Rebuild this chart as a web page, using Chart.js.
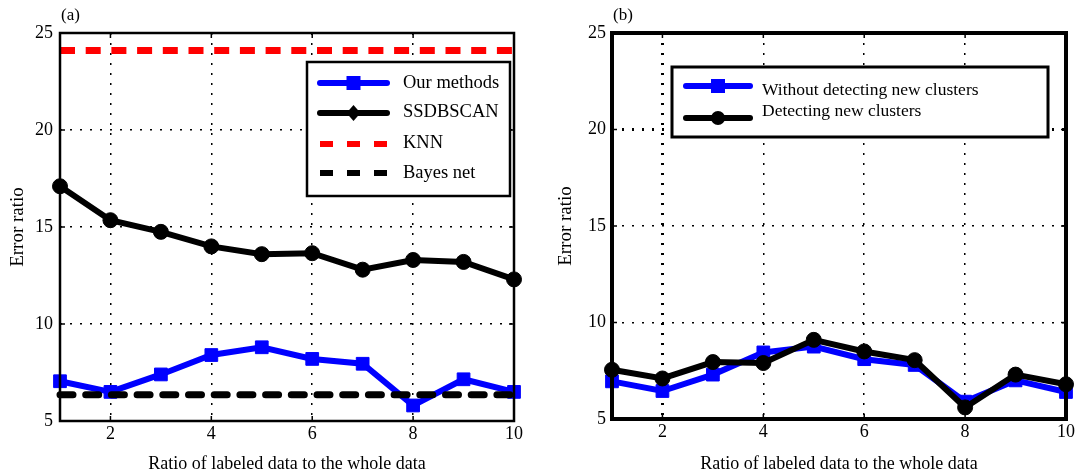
<!DOCTYPE html>
<html>
<head>
<meta charset="utf-8">
<script src="https://cdn.jsdelivr.net/npm/chart.js@4"></script>
<style>
body { margin: 0; background: #fff; }
#wrap { position: relative; width: 1089px; height: 475px; }
.panel { position: absolute; top: 0; height: 475px; }
</style>
</head>
<body>
<div id="wrap">
  <div class="panel" style="left:0;width:545px"><canvas id="chartA" width="545" height="475"></canvas></div>
  <div class="panel" style="left:545px;width:544px"><canvas id="chartB" width="544" height="475"></canvas></div>
</div>
<script>
// ===============================
// Data
// ===============================
var ratios = [1, 2, 3, 4, 5, 6, 7, 8, 9, 10];
var xTicks = [2, 4, 6, 8, 10];
var yTicks = [5, 10, 15, 20, 25];

// panel (a)
var ourMethods = [7.05, 6.5, 7.4, 8.4, 8.8, 8.2, 7.95, 5.8, 7.15, 6.5];
var ssdbscan   = [17.1, 15.35, 14.75, 14.0, 13.6, 13.65, 12.8, 13.3, 13.2, 12.3];
var knn        = [24.1, 24.1, 24.1, 24.1, 24.1, 24.1, 24.1, 24.1, 24.1, 24.1];
var bayesNet   = [6.35, 6.35, 6.35, 6.35, 6.35, 6.35, 6.35, 6.35, 6.35, 6.35];

// panel (b)
var withoutNewClusters   = [6.95, 6.45, 7.3, 8.45, 8.75, 8.1, 7.8, 5.9, 7.0, 6.4];
var detectingNewClusters = [7.55, 7.1, 7.95, 7.9, 9.1, 8.5, 8.05, 5.6, 7.3, 6.8];

var FONT = "'Liberation Serif', 'DejaVu Serif', serif";
var BLUE = "#0000ff";

function toPoints(values) {
    return values.map(function(v, i) { return { x: ratios[i], y: v }; });
}

// draws the frame, inward ticks, panel label and the boxed legend
// (legend coordinates are local to each canvas)
var decorPlugin = {
    id: "decor",
    afterDraw: function(chart) {
        var o = chart.options.plugins.decor;
        var ctx = chart.ctx;
        var a = chart.chartArea;
        var xs = chart.scales.x, ys = chart.scales.y;
        ctx.save();

        // inward tick marks
        ctx.strokeStyle = "#000";
        ctx.lineWidth = 1.5;
        ctx.beginPath();
        xTicks.forEach(function(v) {
            var px = xs.getPixelForValue(v);
            ctx.moveTo(px, a.bottom); ctx.lineTo(px, a.bottom - 5);
            ctx.moveTo(px, a.top); ctx.lineTo(px, a.top + 5);
        });
        yTicks.forEach(function(v) {
            var py = ys.getPixelForValue(v);
            ctx.moveTo(a.left, py); ctx.lineTo(a.left + 5, py);
            ctx.moveTo(a.right, py); ctx.lineTo(a.right - 5, py);
        });
        ctx.stroke();

        // frame
        ctx.lineWidth = o.frameWidth;
        ctx.strokeRect(a.left, a.top, a.right - a.left, a.bottom - a.top);

        // panel label
        ctx.fillStyle = "#000";
        ctx.font = "17px " + FONT;
        ctx.textAlign = "left";
        ctx.textBaseline = "middle";
        ctx.fillText(o.label, a.left + 1, 16);

        // legend box
        var L = o.legend;
        ctx.fillStyle = "#fff";
        ctx.fillRect(L.x, L.y, L.w, L.h);
        ctx.lineWidth = L.border;
        ctx.strokeRect(L.x, L.y, L.w, L.h);

        L.items.forEach(function(item) {
            var ds = chart.data.datasets[item.index];
            ctx.save();
            ctx.strokeStyle = ds.borderColor;
            ctx.lineWidth = 6;
            if (item.dashed) {
                ctx.lineCap = "butt";
                ctx.setLineDash([13, 14]);
            } else {
                ctx.lineCap = "round";
            }
            ctx.beginPath();
            ctx.moveTo(L.lineX0, item.lineY);
            ctx.lineTo(L.lineX1, item.lineY);
            ctx.stroke();
            ctx.restore();
            if (item.marker) {
                var mx = (L.lineX0 + L.lineX1) / 2;
                ctx.fillStyle = ds.pointBackgroundColor;
                ctx.beginPath();
                if (item.marker === "rect") {
                    ctx.rect(mx - 7, item.lineY - 7, 14, 14);
                } else if (item.marker === "diamond") {
                    ctx.moveTo(mx, item.lineY - 8);
                    ctx.lineTo(mx + 7, item.lineY);
                    ctx.lineTo(mx, item.lineY + 8);
                    ctx.lineTo(mx - 7, item.lineY);
                    ctx.closePath();
                } else {
                    ctx.arc(mx, item.lineY, 7, 0, Math.PI * 2);
                }
                ctx.fill();
            }
            ctx.fillStyle = "#000";
            ctx.font = L.fontSize + "px " + FONT;
            ctx.textAlign = "left";
            ctx.textBaseline = "middle";
            ctx.fillText(item.text, L.textX, item.textY);
        });
        ctx.restore();
    }
};

function makeChart(canvasId, datasets, dims, decor) {
    var canvas = document.getElementById(canvasId);
    var W = canvas.width, H = canvas.height;
    // grid lines drawn heavier in the source figure (panel b only)
    function gridWidth(boldValue) {
        return function(c) {
            return (c.tick && c.tick.value === boldValue) ? 3 : 1.5;
        };
    }
    return new Chart(canvas.getContext("2d"), {
        type: "line",
        data: { datasets: datasets },
        plugins: [decorPlugin],
        options: {
            responsive: false,
            animation: false,
            layout: { padding: { left: 0, top: dims.top, right: W - dims.right, bottom: 0 } },
            plugins: {
                legend: { display: false },
                tooltip: { enabled: false },
                decor: decor
            },
            scales: {
                x: {
                    type: "linear",
                    min: 1,
                    max: 10,
                    afterBuildTicks: function(scale) {
                        scale.ticks = xTicks.map(function(v) { return { value: v }; });
                    },
                    afterFit: function(scale) { scale.height = H - dims.bottom; },
                    grid: { color: "#000", lineWidth: gridWidth(dims.boldX), drawTicks: false },
                    border: { display: false, dash: [2, 8] },
                    ticks: { color: "#000", padding: 2, maxRotation: 0, font: { family: FONT, size: 18 } },
                    title: {
                        display: true,
                        text: "Ratio of labeled data to the whole data",
                        color: "#000",
                        font: { family: FONT, size: 18 },
                        padding: { top: 0, bottom: 0 }
                    }
                },
                y: {
                    min: 5,
                    max: 25,
                    afterBuildTicks: function(scale) {
                        scale.ticks = yTicks.map(function(v) { return { value: v }; });
                    },
                    afterFit: function(scale) { scale.width = dims.left; },
                    grid: { color: "#000", lineWidth: gridWidth(dims.boldY), drawTicks: false },
                    border: { display: false, dash: [2, 8] },
                    ticks: { color: "#000", padding: dims.tickPad, font: { family: FONT, size: 18 } },
                    title: {
                        display: true,
                        text: "Error ratio",
                        color: "#000",
                        font: { family: FONT, size: 19 },
                        padding: { top: dims.titlePad, bottom: 0 }
                    }
                }
            }
        }
    });
}

// ===============================
// Panel (a)
// ===============================
makeChart("chartA", [
    { label: "Our methods", data: toPoints(ourMethods), borderColor: BLUE, backgroundColor: BLUE,
      pointBackgroundColor: BLUE, pointBorderColor: BLUE, borderWidth: 6, pointStyle: "rect",
      pointRadius: 9, pointBorderWidth: 1, tension: 0, clip: false, order: 3 },
    { label: "SSDBSCAN", data: toPoints(ssdbscan), borderColor: "#000", backgroundColor: "#000",
      pointBackgroundColor: "#000", pointBorderColor: "#000", borderWidth: 6, pointStyle: "circle",
      pointRadius: 7.5, pointBorderWidth: 1, tension: 0, clip: false, order: 2 },
    { label: "KNN", data: toPoints(knn), borderColor: "#ff0000", backgroundColor: "#ff0000",
      borderWidth: 7, borderDash: [15, 10.7], borderCapStyle: "butt", pointRadius: 0, clip: false, order: 1 },
    { label: "Bayes net", data: toPoints(bayesNet), borderColor: "#000", backgroundColor: "#000",
      borderWidth: 7, borderDash: [13, 12.7], borderCapStyle: "round", pointRadius: 0, clip: false, order: 0 }
], { left: 60, right: 514, top: 33, bottom: 421, tickPad: 7, titlePad: 7, boldX: null, boldY: null }, {
    label: "(a)",
    frameWidth: 2.5,
    legend: {
        x: 307, y: 62, w: 203, h: 134, border: 2.5, fontSize: 18.5,
        lineX0: 320, lineX1: 387, textX: 403,
        items: [
            { index: 0, text: "Our methods", lineY: 83, textY: 83, marker: "rect" },
            { index: 1, text: "SSDBSCAN", lineY: 113, textY: 112, marker: "diamond" },
            { index: 2, text: "KNN", lineY: 144, textY: 143, dashed: true },
            { index: 3, text: "Bayes net", lineY: 173, textY: 173, dashed: true }
        ]
    }
});

// ===============================
// Panel (b)
// ===============================
makeChart("chartB", [
    { label: "Without detecting new clusters", data: toPoints(withoutNewClusters), borderColor: BLUE,
      backgroundColor: BLUE, pointBackgroundColor: BLUE, pointBorderColor: BLUE, borderWidth: 6,
      pointStyle: "rect", pointRadius: 9, pointBorderWidth: 1, tension: 0, clip: false, order: 1 },
    { label: "Detecting new clusters", data: toPoints(detectingNewClusters), borderColor: "#000",
      backgroundColor: "#000", pointBackgroundColor: "#000", pointBorderColor: "#000", borderWidth: 6,
      pointStyle: "circle", pointRadius: 7.5, pointBorderWidth: 1, tension: 0, clip: false, order: 0 }
], { left: 67, right: 521, top: 33, bottom: 419, tickPad: 6, titlePad: 10, boldX: 2, boldY: 20 }, {
    label: "(b)",
    frameWidth: 4,
    legend: {
        x: 127, y: 67, w: 376, h: 70, border: 3, fontSize: 17.5,
        lineX0: 141, lineX1: 205, textX: 217,
        items: [
            { index: 0, text: "Without detecting new clusters", lineY: 86, textY: 90, marker: "rect" },
            { index: 1, text: "Detecting new clusters", lineY: 118, textY: 111, marker: "circle" }
        ]
    }
});
</script>
</body>
</html>
